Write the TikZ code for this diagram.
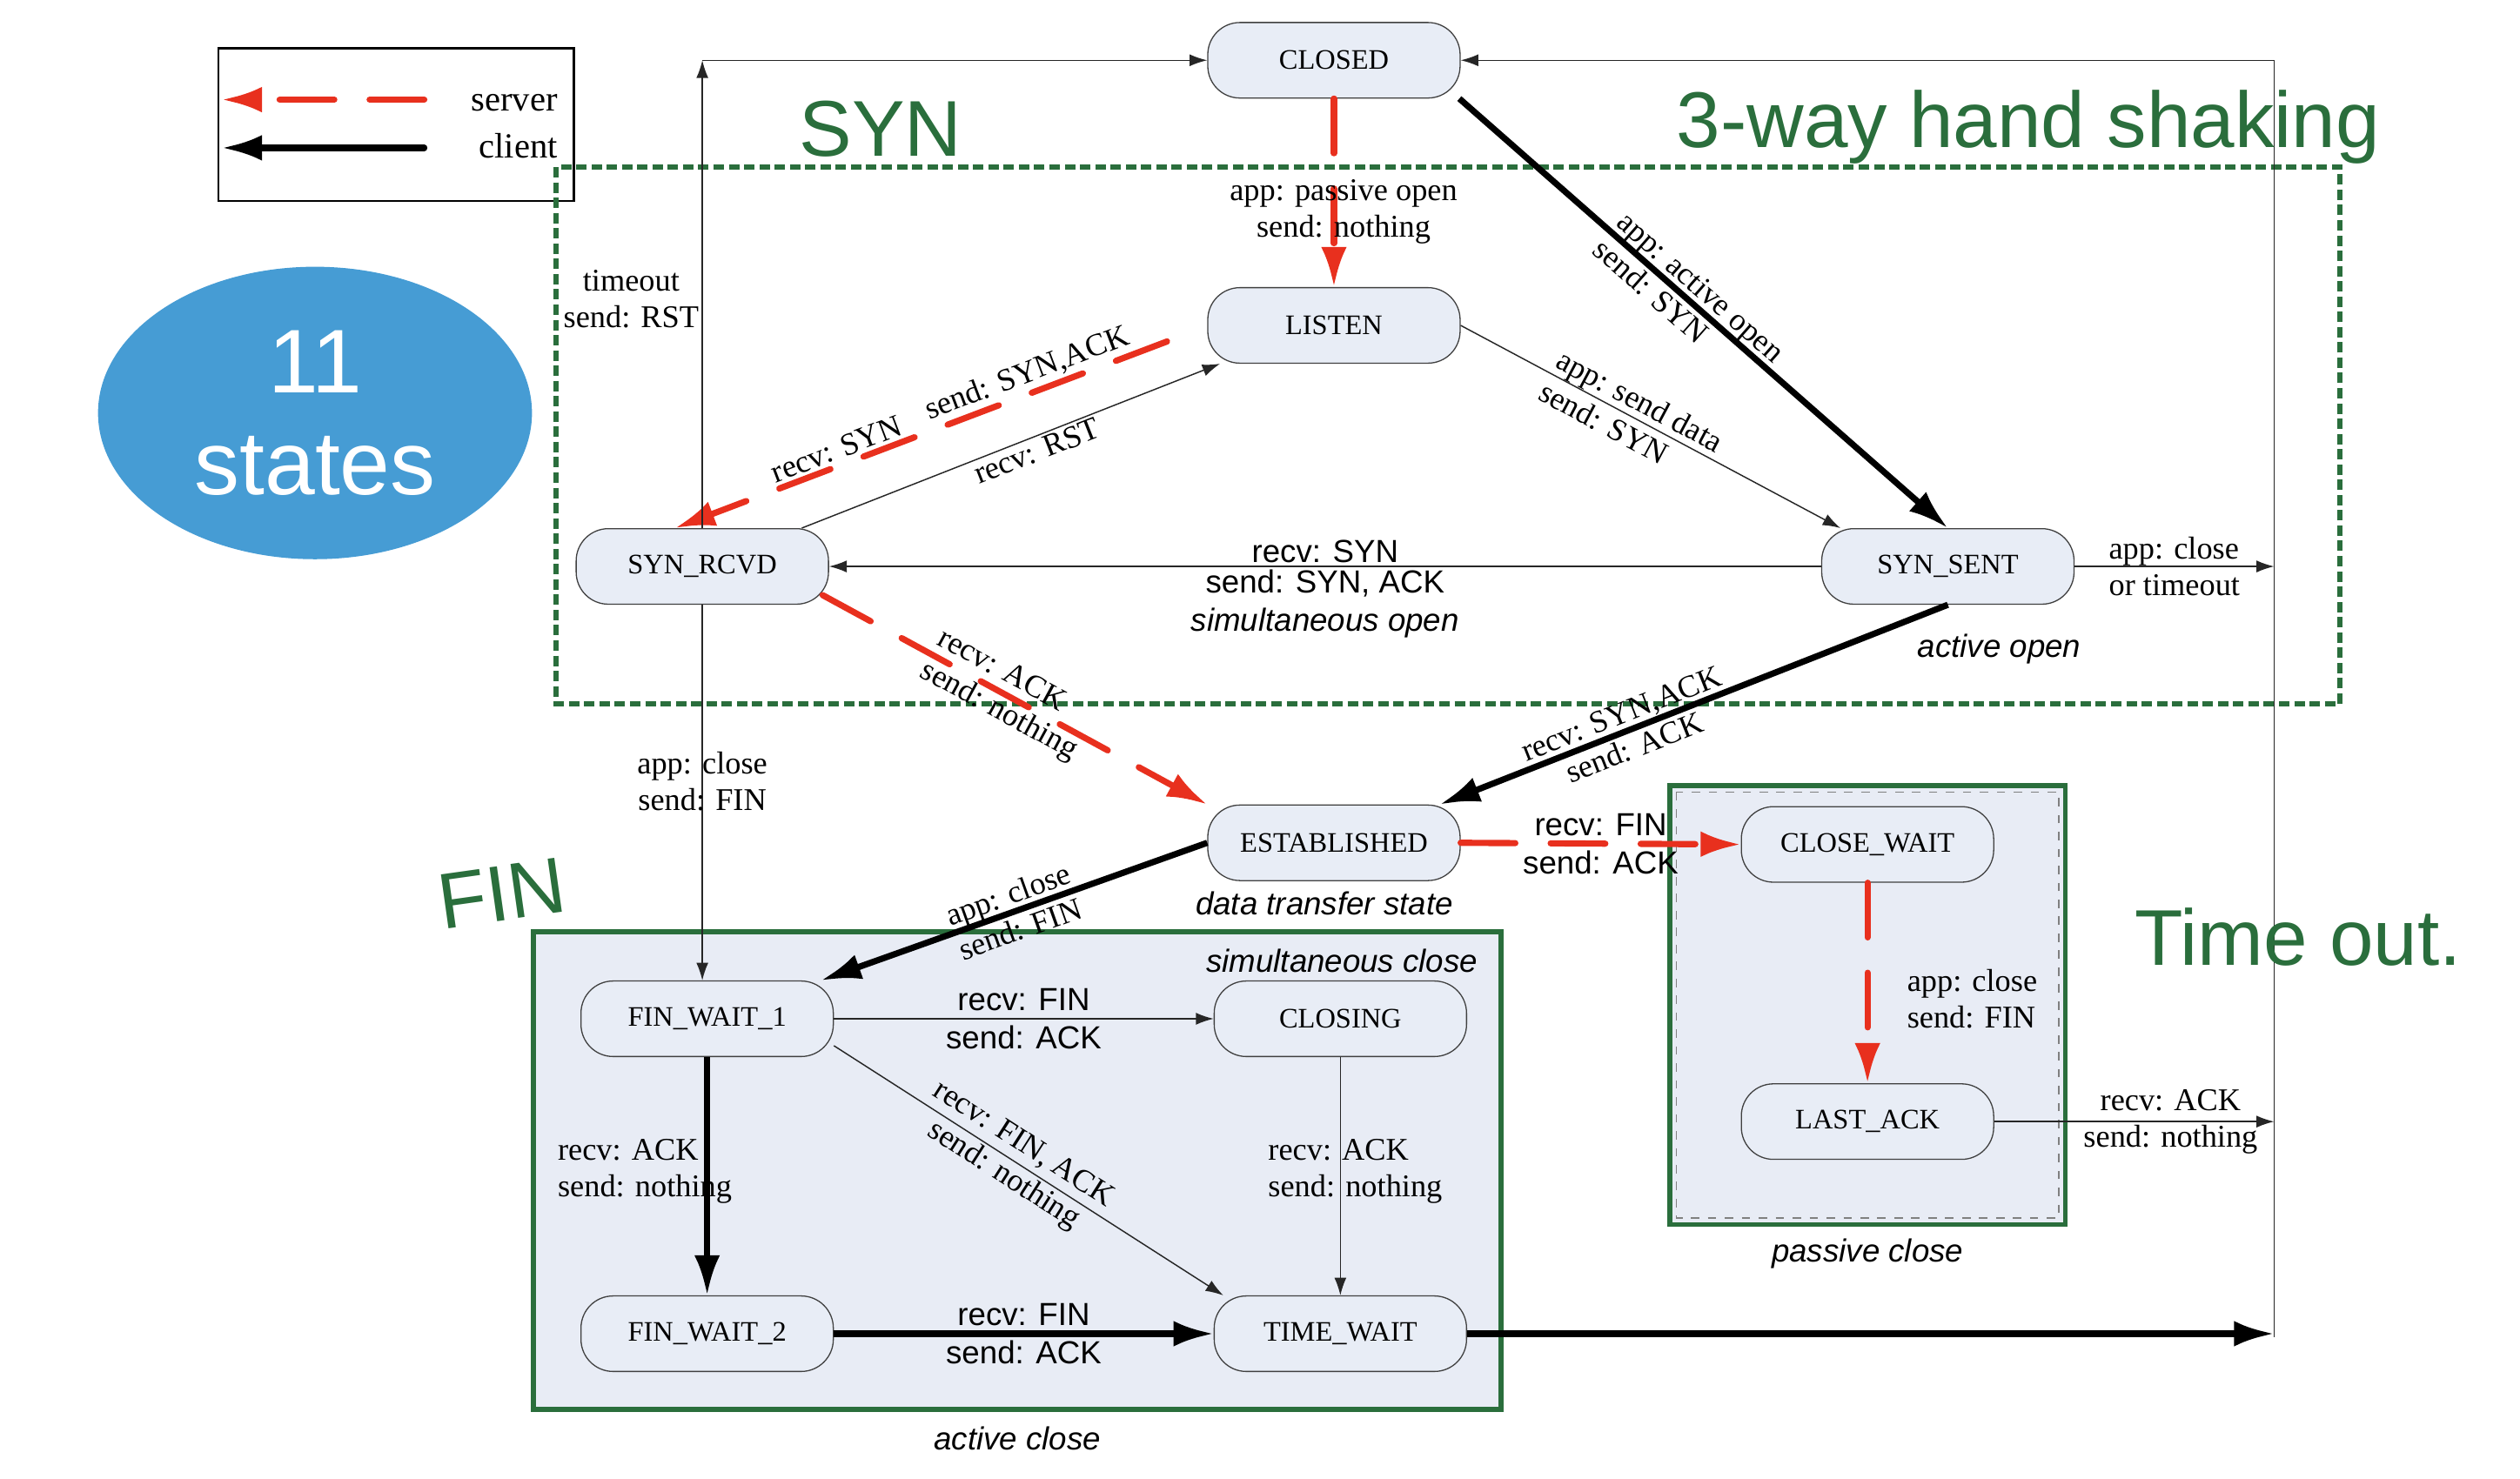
\documentclass[tikz,border=0pt]{standalone}
\usepackage{xcolor}
\usepackage{fontspec}
\setmainfont{Liberation Serif}
\setsansfont{Liberation Sans}
\newfontfamily\handfont{Liberation Sans}
\usepackage{tikz}
\usetikzlibrary{shapes,arrows.meta,positioning}

\definecolor{stfill}{RGB}{232,237,246}
\definecolor{boxfill}{RGB}{232,236,245}
\definecolor{hwgreen}{RGB}{42,110,60}
\definecolor{srvred}{RGB}{232,48,30}
\definecolor{blob}{RGB}{70,156,212}

\begin{document}
\begin{tikzpicture}[x=0.2mm,y=-0.2mm]
\tikzstyle{state}=[draw=black!75, fill=stfill, rounded corners=4mm, minimum width=31.4mm, minimum height=9.4mm, inner sep=0pt, font=\fontsize{10}{12}\selectfont]
\tikzstyle{serlbl}=[font=\fontsize{11.2}{13}\selectfont, align=center, inner sep=1pt, text=black]
\tikzstyle{sanlbl}=[font=\sffamily\fontsize{11.3}{13.6}\selectfont, align=center, inner sep=1pt, text=black]
\tikzstyle{itlbl}=[font=\sffamily\itshape\fontsize{11.3}{13.6}\selectfont, inner sep=1pt]
\tikzstyle{hand}=[text=hwgreen, font=\handfont\fontsize{28}{30}\selectfont]
\tikzstyle{srvarrow}=[draw=srvred, line width=2.2pt, line cap=round, dash pattern=on 6.8mm off 4.4mm, -{Latex[length=5mm,width=3.2mm]}]
\tikzstyle{cliarrow}=[draw=black, line width=2.2pt, -{Latex[length=5mm,width=3.2mm]}]
\tikzstyle{otharrow}=[draw=black!85, line width=0.45pt, -{Latex[length=2.2mm,width=1.5mm]}]
\tikzstyle{othline}=[draw=black!85, line width=0.45pt]
\useasboundingbox (0,0) rectangle (1568,920);

% close regions
\draw[hwgreen, line width=1.7pt, fill=boxfill] (332,580) rectangle (934,877);
\draw[hwgreen, line width=1.7pt, fill=boxfill] (1039,489) rectangle (1285,762);
\draw[gray, dashed, line width=0.4pt] (1043,493) rectangle (1281,758);

% legend
\draw[line width=0.8pt] (136,30) rectangle (357,125);
\node[serlbl, font=\fontsize{12.5}{14}\selectfont, anchor=east] (server) at (349,64) {server};
\node[serlbl, font=\fontsize{12.5}{14}\selectfont, anchor=east] (client) at (349,91) {client};
\coordinate (srvA) at (264,62);
\coordinate (srvB) at (138,62);
\coordinate (cliA) at (264,92);
\coordinate (cliB) at (138,92);
\draw[srvarrow] (srvA) -- (srvB);
\draw[cliarrow, line cap=round] (cliA) -- (cliB);

% 11 states
\node[ellipse, fill=blob, minimum width=54mm, minimum height=36.4mm, text=white, align=center,
  font=\sffamily\fontsize{32}{36}\selectfont] (blob) at (196,257) {11\\states};

% SYN region
\draw[hwgreen, line width=1.7pt, dash pattern=on 1.3mm off 0.6mm] (346,104) rectangle (1456,438);

% states
\node[state] (closed) at (830,37.5) {CLOSED};
\node[state] (listen) at (830,202.5) {LISTEN};
\node[state] (synrcvd) at (437,352.5) {SYN\_RCVD};
\node[state] (synsent) at (1212,352.5) {SYN\_SENT};
\node[state] (estab) at (830,524.5) {ESTABLISHED};
\node[state] (closewait) at (1162,525.5) {CLOSE\_WAIT};
\node[state] (lastack) at (1162,698) {LAST\_ACK};
\node[state] (finwait1) at (440,634) {FIN\_WAIT\_1};
\node[state] (closing) at (834,634) {CLOSING};
\node[state] (finwait2) at (440,830) {FIN\_WAIT\_2};
\node[state] (timewait) at (834,830) {TIME\_WAIT};

\coordinate (br) at (1415,832);
\coordinate (tr) at (br |- closed.east);
\coordinate (tl) at (synrcvd.north |- closed.west);

% opening
\draw[srvarrow] (closed) -- node[pos=0.6, xshift=1.2mm, serlbl] (passlbl) {app: passive open\\send: nothing} (listen);
\draw[cliarrow] (closed.-17) -- node[pos=0.47, sloped, serlbl, align=left] (actlbl) {app: active open\\send: SYN} (synsent.north);
\draw[otharrow] (listen.east) -- node[pos=0.45, sloped, serlbl, align=left] (datlbl) {app: send data\\send: SYN} ([xshift=2.4mm]synsent.north west);
\draw[srvarrow] ([xshift=-5mm,yshift=-2mm]listen.west) -- node[pos=0.27, sloped, above, serlbl] (sakl) {send: SYN,ACK} node[pos=0.66, sloped, above, serlbl] (rsynl) {recv: SYN} ([xshift=-3.4mm]synrcvd.north);
\draw[otharrow] ([xshift=-3.4mm]synrcvd.north east) -- node[pos=0.55, sloped, below, serlbl] (rstl) {recv: RST} ([xshift=1.6mm]listen.south west);
\draw[otharrow] (synsent.west) -- node[midway, above, sanlbl] (simol) {recv: SYN} node[midway, below, sanlbl] (simo2) {send: SYN, ACK\\\textit{simultaneous open}} (synrcvd.east);
\draw[srvarrow] ([xshift=-0.8mm,yshift=1.2mm]synrcvd.south east) -- node[pos=0.48, sloped, serlbl, align=left] (ackl) {recv: ACK\\send: nothing} (estab.north west);
\draw[cliarrow] (synsent.south) -- node[pos=0.63, sloped, serlbl] (sal) {recv: SYN,ACK\\send: ACK} ([xshift=-2.6mm]estab.north east);
\draw[otharrow] (synrcvd.north) -- node[pos=0.49, left, serlbl] (tmol) {timeout\\send: RST} (tl);
\draw[otharrow] (tl) -- (closed.west);
\draw[otharrow] (synsent.east) -- node[midway, serlbl, align=left] (clol) {app: close\\or timeout} (synsent.east -| br);

% closing
\draw[otharrow] (synrcvd.south) -- node[pos=0.47, serlbl] (rcfl) {app: close\\send: FIN} (synrcvd.south |- finwait1.north);
\draw[srvarrow] (estab.east) -- node[midway, sanlbl] (pfl) {recv: FIN\\send: ACK} (closewait.west);
\draw[srvarrow] (closewait.south) -- node[pos=0.58, anchor=west, xshift=4.2mm, serlbl, align=left] (pcl) {app: close\\send: FIN} (lastack.north);
\draw[otharrow] (lastack.east) -- node[pos=0.63, serlbl] (lal) {recv: ACK\\send: nothing} (lastack.east -| br);
\draw[cliarrow] (estab.west) -- node[midway, sloped, serlbl] (acl) {app: close\\send: FIN} ([xshift=-1.6mm]finwait1.north east);
\draw[otharrow] (finwait1.east) -- node[midway, sanlbl] (scl) {recv: FIN\\send: ACK} (closing.west);
\draw[otharrow] (finwait1.-12) -- node[pos=0.46, sloped, serlbl] (fal) {recv: FIN, ACK\\send: nothing} ([xshift=1.2mm]timewait.north west);
\draw[otharrow] (closing.south) -- (timewait.north);
\node[serlbl, align=left, anchor=west] (cgl) at (787,729) {recv: ACK\\send: nothing};
\draw[cliarrow] (finwait1.south) -- (finwait2.north);
\node[serlbl, align=left, anchor=west] (f1l) at (345,729) {recv: ACK\\send: nothing};
\draw[cliarrow] (finwait2.east) -- node[midway, sanlbl] (f2l) {recv: FIN\\send: ACK} (timewait.west);

% back to CLOSED
\draw[cliarrow] (timewait.east) -- (timewait.east -| br);
\draw[othline] (br) -- (tr);
\draw[otharrow] (tr) -- (closed.east);

% region names
\node[itlbl] (actopen) at (1244,404) {active open};
\node[itlbl] (dts) at (824,562) {data transfer state};
\node[itlbl] (simclose) at (835,598) {simultaneous close};
\node[itlbl] (actclose) at (633,895) {active close};
\node[itlbl] (pasclose) at (1162,780) {passive close};

% notes
\node[hand] (hsyn) at (548,80) {SYN};
\node[hand, anchor=base west] (hway) at (1037,92) {3-way hand shaking};
\node[hand, rotate=8] (hfin) at (312,556) {FIN};
\node[hand] (hto) at (1430,583) {Time out.};
\end{tikzpicture}
\end{document}
